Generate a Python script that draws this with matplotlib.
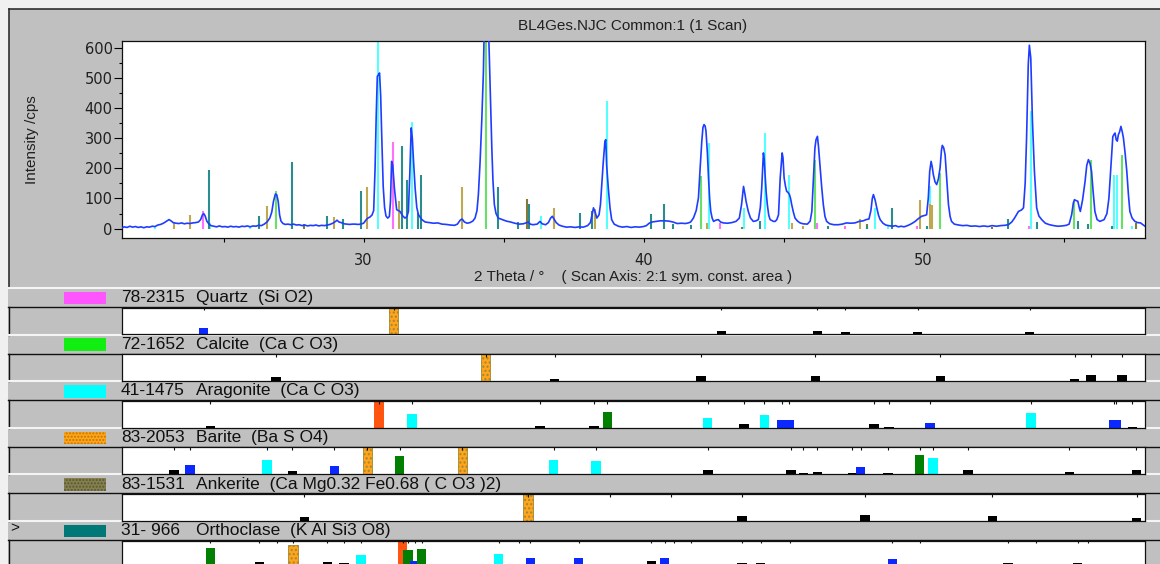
import numpy as np
import matplotlib.pyplot as plt
from matplotlib.patches import Rectangle
from matplotlib.ticker import MultipleLocator, FixedLocator

W, H = 1160, 564

# measured scan: (2theta, cps)
scan_pts = [
    (21.36, 2), (21.45, 6), (21.55, 4), (21.65, 8), (21.75, 5), (21.85, 7), (21.95, 4),
    (22.05, 6), (22.15, 3), (22.25, 6), (22.35, 5), (22.45, 8), (22.55, 7), (22.65, 12),
    (22.75, 14), (22.85, 18), (22.95, 24), (23.05, 30), (23.12, 26), (23.2, 20), (23.3, 18),
    (23.4, 17), (23.5, 19), (23.6, 16), (23.7, 18), (23.8, 17), (23.9, 19), (24.0, 20),
    (24.1, 22), (24.18, 30), (24.24, 45), (24.29, 50), (24.34, 42), (24.4, 25), (24.48, 15),
    (24.55, 10), (24.65, 8), (24.75, 6), (24.85, 9), (24.95, 6), (25.05, 7), (25.15, 5),
    (25.25, 8), (25.35, 6), (25.45, 7), (25.55, 5), (25.65, 8), (25.75, 7), (25.85, 9),
    (25.95, 6), (26.05, 9), (26.15, 8), (26.25, 11), (26.35, 10), (26.45, 15), (26.55, 22),
    (26.65, 35), (26.72, 55), (26.78, 90), (26.85, 115), (26.9, 112), (26.95, 90), (27.0, 45),
    (27.05, 25), (27.12, 17), (27.2, 14), (27.3, 15), (27.4, 13), (27.5, 15), (27.6, 12),
    (27.7, 13), (27.8, 10), (27.9, 12), (28.0, 9), (28.1, 11), (28.2, 10), (28.3, 12),
    (28.4, 9), (28.5, 11), (28.6, 10), (28.7, 12), (28.8, 14), (28.9, 18), (29.0, 24),
    (29.05, 28), (29.12, 22), (29.2, 20), (29.3, 16), (29.4, 15), (29.5, 14), (29.6, 15),
    (29.7, 15), (29.8, 14), (29.9, 15), (30.0, 18), (30.08, 28), (30.15, 35), (30.22, 38),
    (30.3, 45), (30.36, 60), (30.41, 200), (30.45, 372), (30.49, 505), (30.53, 510),
    (30.57, 516), (30.61, 440), (30.65, 300), (30.7, 140), (30.75, 70), (30.8, 42),
    (30.86, 35), (30.92, 40), (30.96, 90), (31.0, 223), (31.04, 210), (31.1, 135),
    (31.18, 63), (31.3, 57), (31.4, 42), (31.48, 35), (31.55, 40), (31.6, 57), (31.65, 180),
    (31.7, 334), (31.74, 300), (31.78, 230), (31.84, 135), (31.9, 70), (31.96, 46),
    (32.08, 30), (32.2, 22), (32.35, 20), (32.5, 18), (32.65, 19), (32.8, 15), (32.95, 14),
    (33.1, 12), (33.25, 11), (33.35, 15), (33.45, 28), (33.52, 32), (33.6, 22), (33.7, 18),
    (33.8, 20), (33.9, 25), (33.98, 35), (34.05, 60), (34.1, 113), (34.16, 220), (34.22, 356),
    (34.28, 521), (34.33, 780), (34.38, 900), (34.43, 850), (34.47, 640), (34.52, 466),
    (34.58, 267), (34.62, 160), (34.67, 80), (34.73, 50), (34.81, 35), (34.95, 30),
    (35.1, 25), (35.25, 22), (35.4, 18), (35.55, 15), (35.7, 16), (35.8, 19), (35.88, 22),
    (35.95, 15), (36.05, 13), (36.2, 15), (36.3, 24), (36.38, 16), (36.5, 13), (36.6, 20),
    (36.68, 35), (36.74, 41), (36.8, 32), (36.88, 20), (36.98, 12), (37.1, 8), (37.25, 5),
    (37.4, 6), (37.55, 4), (37.7, 6), (37.85, 5), (38.0, 10), (38.1, 20), (38.16, 45),
    (38.21, 69), (38.27, 55), (38.33, 35), (38.41, 46), (38.46, 80), (38.5, 135),
    (38.56, 220), (38.62, 290), (38.65, 295), (38.68, 212), (38.74, 135), (38.8, 70),
    (38.86, 30), (38.95, 15), (39.1, 8), (39.25, 5), (39.4, 7), (39.55, 4), (39.7, 6),
    (39.85, 5), (40.0, 7), (40.1, 10), (40.2, 18), (40.3, 22), (40.45, 24), (40.6, 26),
    (40.75, 26), (40.9, 25), (41.05, 22), (41.2, 17), (41.35, 18), (41.5, 17), (41.6, 19),
    (41.68, 22), (41.78, 35), (41.88, 60), (41.96, 102), (42.02, 200), (42.08, 290),
    (42.12, 335), (42.16, 345), (42.2, 340), (42.23, 323), (42.28, 250), (42.32, 168),
    (42.36, 100), (42.4, 57), (42.45, 35), (42.5, 24), (42.58, 28), (42.67, 30), (42.75, 22),
    (42.85, 19), (43.0, 18), (43.15, 20), (43.3, 24), (43.42, 35), (43.5, 80), (43.57, 140),
    (43.62, 115), (43.66, 91), (43.74, 57), (43.82, 35), (43.92, 24), (44.02, 26), (44.1, 30),
    (44.17, 70), (44.22, 135), (44.28, 251), (44.31, 230), (44.34, 179), (44.38, 120),
    (44.42, 80), (44.47, 45), (44.52, 30), (44.64, 24), (44.7, 24), (44.76, 30), (44.82, 46),
    (44.88, 168), (44.95, 251), (44.98, 235), (45.02, 168), (45.07, 140), (45.11, 124),
    (45.16, 120), (45.21, 113), (45.25, 100), (45.29, 80), (45.35, 55), (45.41, 35),
    (45.5, 25), (45.59, 19), (45.7, 16), (45.85, 15), (45.95, 25), (46.01, 57), (46.06, 150),
    (46.12, 267), (46.16, 295), (46.21, 306), (46.25, 270), (46.3, 212), (46.36, 140),
    (46.42, 80), (46.48, 40), (46.54, 24), (46.65, 16), (46.8, 13), (46.95, 13), (47.1, 15),
    (47.25, 19), (47.4, 18), (47.55, 19), (47.7, 24), (47.85, 26), (47.95, 30), (48.05, 32),
    (48.12, 60), (48.17, 100), (48.21, 113), (48.27, 95), (48.33, 69), (48.39, 45),
    (48.45, 30), (48.55, 18), (48.65, 12), (48.75, 10), (48.9, 8), (49.0, 10), (49.1, 6),
    (49.2, 8), (49.3, 6), (49.4, 9), (49.5, 13), (49.6, 18), (49.7, 24), (49.8, 32),
    (49.93, 41), (50.05, 44), (50.11, 46), (50.17, 102), (50.22, 190), (50.27, 223),
    (50.31, 205), (50.35, 179), (50.41, 155), (50.47, 146), (50.53, 165), (50.59, 201),
    (50.64, 260), (50.67, 276), (50.72, 268), (50.77, 245), (50.83, 160), (50.89, 80),
    (50.95, 40), (51.0, 24), (51.1, 15), (51.25, 12), (51.4, 10), (51.55, 11), (51.7, 8),
    (51.85, 9), (52.0, 7), (52.15, 9), (52.3, 7), (52.45, 10), (52.6, 8), (52.75, 10),
    (52.9, 11), (53.03, 13), (53.15, 22), (53.25, 35), (53.39, 57), (53.5, 62), (53.57, 69),
    (53.63, 150), (53.68, 300), (53.74, 544), (53.78, 608), (53.83, 566), (53.89, 356),
    (53.96, 190), (54.04, 69), (54.12, 42), (54.22, 30), (54.35, 18), (54.5, 13), (54.65, 10),
    (54.8, 8), (54.95, 9), (55.1, 11), (55.2, 15), (55.29, 46), (55.35, 85), (55.39, 96),
    (55.45, 93), (55.51, 91), (55.56, 70), (55.6, 57), (55.68, 95), (55.77, 157), (55.83, 210),
    (55.89, 229), (55.95, 215), (56.0, 190), (56.06, 120), (56.12, 57), (56.2, 30),
    (56.3, 24), (56.45, 30), (56.55, 50), (56.62, 100), (56.7, 220), (56.76, 305), (56.8, 312),
    (56.84, 317), (56.88, 295), (56.92, 290), (56.96, 312), (57.0, 320), (57.05, 339),
    (57.1, 320), (57.14, 300), (57.2, 250), (57.26, 190), (57.32, 110), (57.37, 57),
    (57.45, 35), (57.55, 24), (57.65, 20), (57.75, 19), (57.85, 12), (57.91, 8),
]

# reference stick patterns (2theta, cps)
quartz_pos = [24.28, 31.04, 42.73, 46.18, 47.2, 49.76, 53.77]
quartz_hgt = [60, 287, 19, 19, 10, 10, 8]
calcite_pos = [26.87, 34.37, 36.8, 42.04, 46.13, 50.59, 55.39, 55.97, 57.08]
calcite_hgt = [124, 900, 26, 173, 229, 185, 91, 229, 245]
aragonite_pos = [22.55, 24.51, 25.94, 30.53, 31.74, 36.33, 38.71, 42.32, 43.57, 44.34,
                 45.2, 48.27, 48.74, 50.23, 53.83, 56.82, 56.92, 57.43]
aragonite_hgt = [6, 19, 6, 900, 354, 41, 424, 284, 69, 317, 179, 69, 10, 140, 391, 179, 179, 8]
barite_pos = [23.23, 23.8, 26.54, 28.95, 30.11, 31.27, 33.5, 36.79, 38.27, 42.26, 45.29,
              45.71, 47.73, 49.88, 50.23, 50.3]
barite_hgt = [19, 46, 74, 39, 137, 93, 137, 69, 66, 19, 19, 8, 32, 96, 83, 80]
ankerite_pos = [27.88, 35.85, 43.52, 47.97, 52.45, 57.58]
ankerite_hgt = [17, 99, 6, 15, 6, 19]
orthoclase_pos = [24.49, 26.25, 27.44, 28.7, 29.28, 29.9, 31.36, 31.56, 31.96, 32.06, 34.81,
                  35.53, 35.92, 37.72, 38.15, 40.26, 40.74, 41.04, 41.68, 44.16, 46.6, 47.99,
                  48.86, 50.11, 53.03, 54.04, 55.51, 55.86, 56.72]
orthoclase_hgt = [193, 43, 220, 43, 32, 124, 273, 162, 52, 177, 137, 22, 83, 52, 57, 49, 83,
                  17, 13, 24, 8, 10, 69, 10, 32, 22, 26, 17, 8]

phase_codes = ['78-2315', '72-1652', '41-1475', '83-2053', '83-1531', '31- 966']
phase_names = ['Quartz  (Si O2)', 'Calcite  (Ca C O3)', 'Aragonite  (Ca C O3)',
               'Barite  (Ba S O4)', 'Ankerite  (Ca Mg0.32 Fe0.68 ( C O3 )2)',
               'Orthoclase  (K Al Si3 O8)']
swatch_colors = ['#ff55ff', '#11ee11', '#00ffff', '#ffa41c', '#858050', '#007878']
stick_colors = ['#ff70ff', '#66e066', '#55ffff', '#c0a850', '#857a35', '#2a8c8c']

# per-phase line markers in the strips: (2theta, height out of 27, colour key)
strip_quartz = [(24.29, 6, 'b'), (31.07, 27, 'o'), (42.77, 3, 'k'), (46.2, 3, 'k'),
                (47.2, 2, 'k'), (49.79, 2, 'k'), (53.79, 2, 'k')]
strip_calcite = [(26.87, 3.5, 'k'), (34.36, 27, 'o'), (36.83, 1.5, 'k'), (42.05, 5, 'k'),
                 (46.14, 5, 'k'), (50.6, 4.5, 'k'), (55.4, 2, 'k'), (55.98, 5.5, 'k'),
                 (57.09, 5.5, 'k')]
strip_aragonite = [(24.52, 1.5, 'k'), (30.55, 27, 'r'), (31.73, 14, 'c'), (36.3, 2, 'k'),
                   (38.23, 1.5, 'k'), (38.7, 16, 'g'), (42.29, 10, 'c'), (43.59, 4, 'k'),
                   (44.31, 12.5, 'c'), (44.93, 7.5, 'b'), (45.2, 7.5, 'b'), (48.23, 3.5, 'k'),
                   (48.77, 1, 'k'), (50.23, 5, 'b'), (53.84, 14.5, 'c'), (56.8, 7.5, 'b'),
                   (56.88, 7.5, 'b'), (57.45, 1, 'k')]
strip_barite = [(23.23, 4, 'k'), (23.8, 9.5, 'b'), (26.55, 14, 'c'), (27.46, 3, 'k'),
                (28.96, 8, 'b'), (30.13, 27, 'o'), (31.29, 18, 'g'), (33.53, 27, 'o'),
                (36.79, 14, 'c'), (38.3, 13, 'c'), (42.3, 4, 'k'), (45.27, 4, 'k'),
                (45.71, 1, 'k'), (46.2, 2, 'k'), (47.45, 1, 'k'), (47.75, 7, 'b'),
                (48.73, 1, 'k'), (49.86, 19, 'g'), (50.34, 16, 'c'), (51.59, 4.5, 'k'),
                (55.2, 2, 'k'), (57.6, 4.5, 'k')]
strip_ankerite = [(27.88, 4, 'k'), (35.87, 27, 'o'), (43.52, 4.5, 'k'), (47.91, 5.5, 'k'),
                  (52.45, 4.5, 'k'), (57.61, 2.5, 'k')]
strip_orthoclase = [(24.52, 19.3, 'g'), (26.27, 5, 'k'), (26.89, 3.3, 'k'), (27.48, 22, 'o'),
                    (28.71, 5, 'k'), (29.3, 4, 'k'), (29.91, 12.7, 'c'), (31.39, 27, 'r'),
                    (31.59, 17, 'g'), (31.84, 6, 'b'), (32.07, 18.3, 'g'), (34.82, 13.7, 'c'),
                    (35.55, 3.3, 'k'), (35.95, 9.3, 'b'), (37.68, 9, 'b'), (40.27, 6, 'k'),
                    (40.75, 9.3, 'b'), (41.09, 3.3, 'k'), (41.7, 3.3, 'k'), (43.52, 4.3, 'k'),
                    (44.18, 4.3, 'k'), (45.22, 3.3, 'k'), (48.88, 8.3, 'b'), (49.86, 3.3, 'k'),
                    (53.02, 4.3, 'k'), (54.02, 3.3, 'k'), (55.5, 4.3, 'k'), (55.88, 3.3, 'k')]
ankerite_extra_ticks = [38.8, 40.97]

mark_colors = {'k': '#000000', 'b': '#0a28ff', 'c': '#00ffff', 'g': '#007f00',
               'r': '#ff5511', 'o': '#ffa41c'}

X0, X1 = 21.36, 57.91
SANS = ['Liberation Sans', 'DejaVu Sans']
NARROW = ['Liberation Sans Narrow', 'Liberation Sans', 'DejaVu Sans']

fig = plt.figure(figsize=(W / 100, H / 100), dpi=100, facecolor='#f0f0f0')
bg = fig.add_axes([0, 0, 1, 1])
bg.set_xlim(0, W)
bg.set_ylim(H, 0)
bg.axis('off')


def px_axes(x0, y0, x1, y1):
    return fig.add_axes([x0 / W, 1 - y1 / H, (x1 - x0) / W, (y1 - y0) / H])


# scan panel frame
bg.add_patch(Rectangle((8.5, 8.5), W - 8.5, 279, fc='#c0c0c0', ec='none'))
bg.plot([8.5, W], [8.5, 8.5], color='#303030', lw=1.2)
bg.plot([8.5, 8.5], [8.5, 287.5], color='#303030', lw=1.2)
bg.text(633, 26, 'BL4Ges.NJC Common:1 (1 Scan)', ha='center', va='center',
        fontsize=11, family=SANS, color='#202020')
bg.text(32, 139.5, 'Intensity /cps', rotation=90, ha='center', va='center',
        fontsize=11, family=SANS, color='#202020')
bg.text(633, 276.5, '2 Theta / \u00b0    ( Scan Axis: 2:1 sym. const. area )',
        ha='center', va='center', fontsize=11, family=SANS, color='#202020')

ax = px_axes(121.7, 40.7, 1145, 238)
ax.set_xlim(X0, X1)
ax.set_ylim(-31, 623)
sticks = [(quartz_pos, quartz_hgt), (calcite_pos, calcite_hgt), (aragonite_pos, aragonite_hgt),
          (barite_pos, barite_hgt), (ankerite_pos, ankerite_hgt),
          (orthoclase_pos, orthoclase_hgt)]
for (pos, hgt), c in zip(sticks, stick_colors):
    ax.vlines(pos, 0, hgt, colors=c, lw=1.5, zorder=2)
scan = np.array(scan_pts)
ax.plot(scan[:, 0], scan[:, 1], color='#1f3dff', lw=1.2, zorder=3)

ax.yaxis.set_major_locator(MultipleLocator(100))
ax.yaxis.set_minor_locator(MultipleLocator(50))
ax.xaxis.set_major_locator(FixedLocator([30, 40, 50]))
ax.xaxis.set_minor_locator(FixedLocator([25, 35, 45, 55]))
ax.tick_params(axis='y', which='major', length=6, width=0.8, pad=0.5, labelsize=10.5,
               labelcolor='#202020')
ax.tick_params(axis='y', which='minor', length=2.5, width=0.8)
ax.tick_params(axis='x', which='both', length=3, width=0.8, pad=8, labelsize=10.5,
               labelcolor='#202020')
for s in ax.spines.values():
    s.set_linewidth(0.9)
    s.set_color('#101010')

# phase strips
strips = [strip_quartz, strip_calcite, strip_aragonite, strip_barite, strip_ankerite,
          strip_orthoclase]
for i in range(6):
    rt = 288 + 46.6 * i
    bg.add_patch(Rectangle((8, rt), W - 8, 46.6, fc='#c0c0c0', ec='none', zorder=1))
    bg.plot([8, W], [rt, rt], color='#f4f4f4', lw=1.5, zorder=6)
    bg.plot([8, W], [rt + 19, rt + 19], color='#101010', lw=1.0, zorder=6)
    bg.plot([8.5, 8.5], [rt + 19, rt + 46.6], color='#101010', lw=1.0, zorder=6)
    hatch = '.....' if i in (3, 4) else None
    hc = '#c07800' if i == 3 else '#5c5830'
    bg.add_patch(Rectangle((63.5, rt + 3.7), 42.5, 12.6, fc=swatch_colors[i],
                           ec=hc if hatch else 'none', lw=0, hatch=hatch, zorder=2))
    clip = Rectangle((8, rt + 1.2), W - 8, 17.5, transform=bg.transData)
    for x, s in [(121, phase_codes[i]), (196, phase_names[i])]:
        t = bg.text(x, rt + 14.2, s, ha='left', va='baseline', fontsize=12.5,
                    family=NARROW, color='#101010', zorder=4)
        t.set_clip_path(clip)
    if i == 5:
        bg.text(15, rt + 7, '>', ha='center', va='center', fontsize=11,
                family=SANS, color='#101010', zorder=4)

    sax = px_axes(121.7, rt + 19.5, 1145, rt + 46.3)
    sax.set_xlim(X0, X1)
    sax.set_ylim(0, 27)
    sax.set_xticks([])
    sax.set_yticks([])
    for s in sax.spines.values():
        s.set_linewidth(0.9)
        s.set_color('#101010')
    marks = strips[i]
    for th, h, k in marks:
        if k == 'o':
            sax.bar(th, h, 0.33, color=mark_colors[k], edgecolor='#a08830', lw=0.6,
                    hatch='....', align='center', zorder=2)
        else:
            sax.bar(th, h, 0.33, color=mark_colors[k], lw=0, align='center', zorder=2)
    ticks = [m[0] for m in marks] + (ankerite_extra_ticks if i == 4 else [])
    sax.vlines(ticks, 24, 27, color='#101010', lw=0.8, zorder=3)

fig.savefig('out.png', dpi=100, facecolor=fig.get_facecolor())
